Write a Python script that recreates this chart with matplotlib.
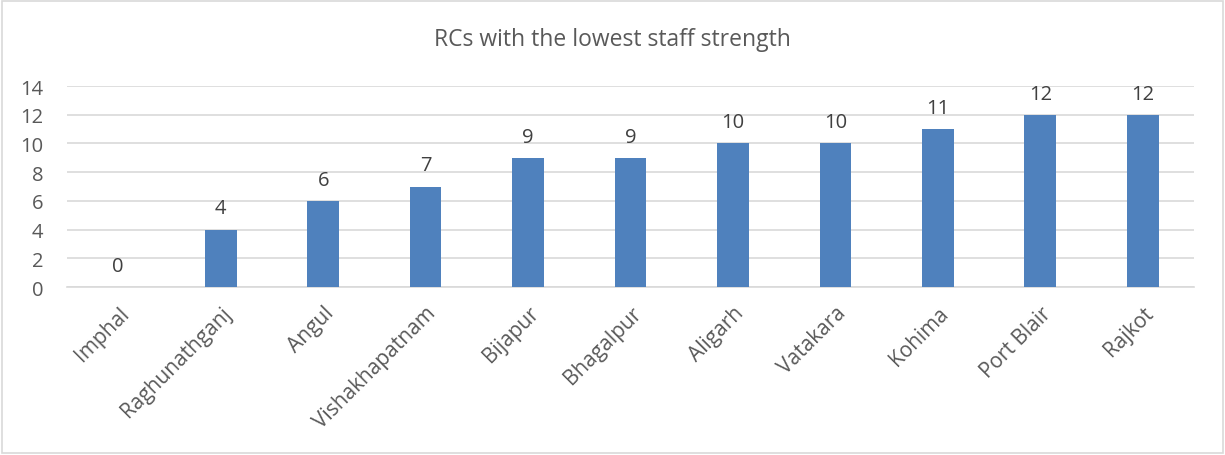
import matplotlib
matplotlib.use('Agg')
import matplotlib.pyplot as plt
from matplotlib.patches import Rectangle

# data
centres = ['Imphal', 'Raghunathganj', 'Angul', 'Vishakhapatnam', 'Bijapur',
           'Bhagalpur', 'Aligarh', 'Vatakara', 'Kohima', 'Port Blair', 'Rajkot']
staff = [0, 4, 6, 7, 9, 9, 10, 10, 11, 12, 12]
y_ticks = [0, 2, 4, 6, 8, 10, 12, 14]

plt.rcParams['font.family'] = ['Open Sans', 'DejaVu Sans']
text_col = '#595959'
grid_col = '#D9D9D9'
bar_col = '#4F81BD'

fig = plt.figure(figsize=(12.25, 4.56), dpi=100)
ax = fig.add_axes([0.0547, 0.3684, 0.92, 0.4408])

x = list(range(len(centres)))
bars = ax.bar(x, staff, width=0.31, color=bar_col, zorder=3)

for xi, v in zip(x, staff):
    ax.annotate(str(v), (xi, v), xytext=(0, 8), textcoords='offset points',
                ha='center', va='bottom', fontsize=14.5, color='#404040')

ax.set_xlim(-0.5, len(centres) - 0.5)
ax.set_ylim(0, 14)
ax.set_yticks(y_ticks)
ax.set_xticks(x)
ax.set_xticklabels(centres, rotation=45, ha='right', rotation_mode='anchor',
                   fontsize=15, color=text_col)
ax.tick_params(axis='x', length=0, pad=11)
ax.tick_params(axis='y', length=0, pad=17, labelsize=14.5, labelcolor=text_col)

ax.grid(axis='y', color=grid_col, linewidth=1.2, zorder=0)
for s in ['left', 'right', 'top']:
    ax.spines[s].set_visible(False)
ax.spines['bottom'].set_color(grid_col)
ax.spines['bottom'].set_linewidth(1.2)

fig.text(0.5, 0.912, 'RCs with the lowest staff strength', ha='center', va='center',
         fontsize=16.5, color=text_col)

fig.patches.append(Rectangle((0.002, 0.004), 0.996, 0.992, transform=fig.transFigure,
                             fill=False, edgecolor=grid_col, linewidth=1.2))

fig.savefig('out.png', dpi=100)
